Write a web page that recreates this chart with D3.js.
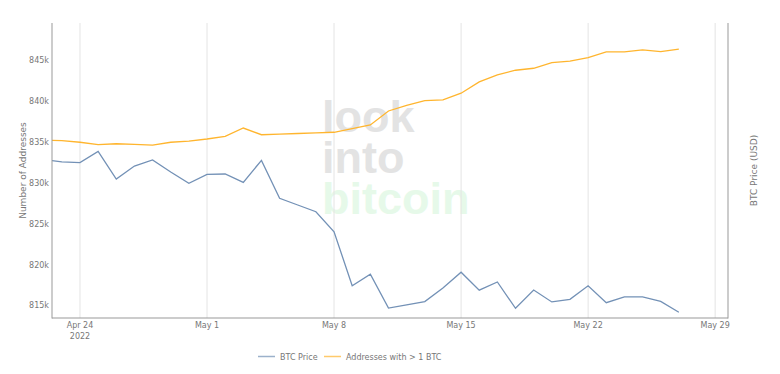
<!DOCTYPE html>
<meta charset="utf-8">
<head>
  <style>
    body { margin: 0; background: #fff; }
    text { font-family: "DejaVu Sans", Verdana, sans-serif; }
    .tick-label { font-size: 8px; fill: #777; }
    .axis-title { font-size: 9px; fill: #777; }
    .legend-text { font-size: 8px; fill: #777; }
    .mark text { font-family: "Liberation Sans", Arial, sans-serif; font-weight: bold; font-size: 45px; }
  </style>
</head>
<script src="https://cdn.jsdelivr.net/npm/d3@7"></script>

<div id="chart"></div>
<script>
// chart values
const dates = ["2022-04-22","2022-04-23","2022-04-24","2022-04-25","2022-04-26","2022-04-27","2022-04-28",
  "2022-04-29","2022-04-30","2022-05-01","2022-05-02","2022-05-03","2022-05-04","2022-05-05","2022-05-06",
  "2022-05-07","2022-05-08","2022-05-09","2022-05-10","2022-05-11","2022-05-12","2022-05-13","2022-05-14",
  "2022-05-15","2022-05-16","2022-05-17","2022-05-18","2022-05-19","2022-05-20","2022-05-21","2022-05-22",
  "2022-05-23","2022-05-24","2022-05-25","2022-05-26","2022-05-27"];
const btcPrice = [39730, 39520, 39460, 40450, 38070, 39170, 39690, 38660, 37710, 38450, 38490, 37790,
  39660, 36490, 35960, 35430, 33910, 30120, 30890, 28680, 28890, 29090, 29970, 31030, 29830, 30370,
  28670, 29840, 29070, 29240, 30120, 29020, 29400, 29390, 29110, 28420];
const addresses = [835220, 835130, 834940, 834640, 834760, 834690, 834600, 834940, 835090, 835340,
  835670, 836680, 835860, 835940, 836010, 836080, 836160, 836600, 837050, 838760, 839460, 840020,
  840110, 840930, 842310, 843170, 843740, 843980, 844670, 844840, 845280, 845980, 845980, 846220,
  846020, 846310];
const xTicks = ["2022-04-24","2022-05-01","2022-05-08","2022-05-15","2022-05-22","2022-05-29"];
const yTicks = [815000, 820000, 825000, 830000, 835000, 840000, 845000];
const seriesNames = ["BTC Price", "Addresses with > 1 BTC"];

const W = 780, H = 374;
const M = { left: 52, right: 728, top: 23, bottom: 318 };
const BLUE = "#7391b6", ORANGE = "#ffb52e";

const parse = d3.utcParse("%Y-%m-%d");

const x = d3.scaleUtc()
  .domain([Date.UTC(2022, 3, 22, 11), Date.UTC(2022, 4, 29, 17)])
  .range([M.left, M.right]);
const y = d3.scaleLinear()
  .domain([813470, 849510])
  .range([M.bottom, M.top]);
// right axis is hidden, log type
const yPrice = d3.scaleLog()
  .domain([28064, 53606])
  .range([M.bottom, M.top]);

const svg = d3.select("#chart").append("svg")
  .attr("width", W)
  .attr("height", H);

svg.append("clipPath").attr("id", "plot")
  .append("rect")
  .attr("x", M.left).attr("y", M.top)
  .attr("width", M.right - M.left).attr("height", M.bottom - M.top);

// watermark (sits under the grid)
const mark = svg.append("g").attr("class", "mark");
mark.append("text").attr("x", 322).attr("y", 132).attr("fill", "#e3e3e3").text("look");
mark.append("text").attr("x", 322).attr("y", 173).attr("fill", "#e3e3e3").text("into");
mark.append("text").attr("x", 322).attr("y", 213.5).attr("fill", "#e6f9e9").text("bitcoin");

// vertical grid
svg.append("g")
  .selectAll("line")
  .data(xTicks)
  .enter().append("line")
  .attr("x1", d => x(parse(d))).attr("x2", d => x(parse(d)))
  .attr("y1", M.top).attr("y2", M.bottom)
  .attr("stroke", "#e4e4e4")
  .attr("stroke-width", 1);

// lines
const plot = svg.append("g").attr("clip-path", "url(#plot)");

plot.append("path")
  .datum(dates.map((d, i) => [parse(d), btcPrice[i]]))
  .attr("fill", "none")
  .attr("stroke", BLUE)
  .attr("stroke-width", 1.3)
  .attr("d", d3.line().x(d => x(d[0])).y(d => yPrice(d[1])));

plot.append("path")
  .datum(dates.map((d, i) => [parse(d), addresses[i]]))
  .attr("fill", "none")
  .attr("stroke", ORANGE)
  .attr("stroke-width", 1.3)
  .attr("d", d3.line().x(d => x(d[0])).y(d => y(d[1])));

// axis lines
const axisLines = svg.append("g").attr("stroke", "#999").attr("stroke-width", 1);
axisLines.append("line").attr("x1", M.left).attr("x2", M.left).attr("y1", M.top).attr("y2", M.bottom + 0.5);
axisLines.append("line").attr("x1", M.right).attr("x2", M.right).attr("y1", M.top).attr("y2", M.bottom + 0.5);
axisLines.append("line").attr("x1", M.left).attr("x2", M.right).attr("y1", M.bottom).attr("y2", M.bottom);

// y tick labels
svg.append("g")
  .selectAll("text")
  .data(yTicks)
  .enter().append("text")
  .attr("class", "tick-label")
  .attr("x", M.left - 3)
  .attr("y", d => y(d) + 3)
  .attr("text-anchor", "end")
  .text(d => d3.format("~s")(d));

// x tick labels
const fmt = d3.utcFormat("%b %-d");
svg.append("g")
  .selectAll("text")
  .data(xTicks)
  .enter().append("text")
  .attr("class", "tick-label")
  .attr("x", d => x(parse(d)))
  .attr("y", 328)
  .attr("text-anchor", "middle")
  .text(d => fmt(parse(d)));
svg.append("text")
  .attr("class", "tick-label")
  .attr("x", x(parse(xTicks[0])))
  .attr("y", 339)
  .attr("text-anchor", "middle")
  .text("2022");

// axis titles
const midY = (M.top + M.bottom) / 2;
svg.append("text")
  .attr("class", "axis-title")
  .attr("transform", `translate(26, ${midY}) rotate(-90)`)
  .attr("text-anchor", "middle")
  .text("Number of Addresses");
svg.append("text")
  .attr("class", "axis-title")
  .attr("transform", `translate(757, ${midY}) rotate(-90)`)
  .attr("text-anchor", "middle")
  .text("BTC Price (USD)");

// legend
const legend = svg.append("g");
const items = [
  { name: seriesNames[0], color: BLUE, x: 258 },
  { name: seriesNames[1], color: ORANGE, x: 324 }
];
items.forEach(it => {
  legend.append("line")
    .attr("x1", it.x).attr("x2", it.x + 17)
    .attr("y1", 356.5).attr("y2", 356.5)
    .attr("stroke", it.color)
    .attr("stroke-width", 1.5)
    .attr("opacity", 0.7);
  legend.append("text")
    .attr("class", "legend-text")
    .attr("x", it.x + 22)
    .attr("y", 359.5)
    .text(it.name);
});
</script>
